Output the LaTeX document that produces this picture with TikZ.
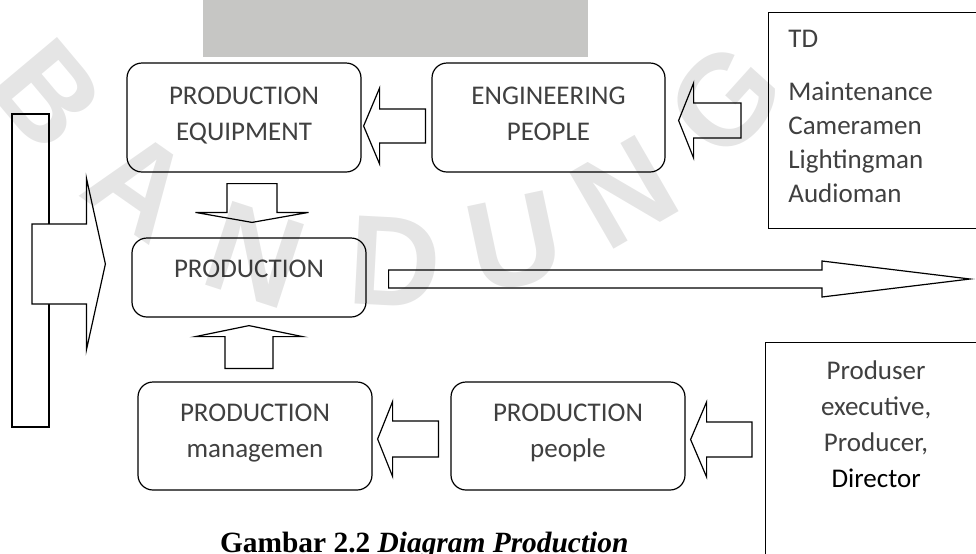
\documentclass[tikz,border=0pt]{standalone}
\usepackage{fontspec}
\setmainfont{Carlito}
\newfontfamily\captionserif{Liberation Serif}
\newfontfamily\stampfont{Liberation Sans}
\usetikzlibrary{positioning,calc}

\definecolor{bandgray}{RGB}{198,198,196}
\definecolor{textgray}{RGB}{64,64,64}

% tail, tip, shaft half width, head half width, head length
\newcommand{\blockarrow}[5]{%
  \path ($(#2)!#5!(#1)$) coordinate (bah);
  \draw[arrowshape] (#2) -- ($(bah)!#4!90:(#2)$) -- ($(bah)!#3!90:(#2)$) -- ($(#1)!#3!90:(#2)$)
    -- ($(#1)!#3!-90:(#2)$) -- ($(bah)!#3!-90:(#2)$) -- ($(bah)!#4!-90:(#2)$) -- cycle;
}

\begin{document}
\begin{tikzpicture}[x=0.5pt,y=-0.5pt,
  roundbox/.style={draw=black,line width=0.6pt,rounded corners=7.5pt,fill=white,inner sep=0pt},
  plainbox/.style={draw=black,line width=0.6pt,fill=white,inner sep=0pt},
  boxtext/.style={font=\fontsize{13.5}{17.75}\selectfont,text=textgray,align=center,inner sep=0pt,anchor=base},
  arrowshape/.style={draw=black,line width=0.6pt,fill=white,line join=miter}]
\path[use as bounding box] (0,0) rectangle (976,553);
\fill[bandgray] (203,0) rectangle (588,57);

% boxes
\node[roundbox,minimum width=117pt,minimum height=54.5pt] (equip) at (244,117.5) {};
\node[roundbox,minimum width=116.5pt,minimum height=54.5pt] (eng) at (548.5,117.5) {};
\node[roundbox,minimum width=117pt,minimum height=39.5pt] (prod) at (249,277.5) {};
\node[roundbox,minimum width=117pt,minimum height=54pt] (mgmt) at (255,436) {};
\node[roundbox,minimum width=117pt,minimum height=54pt] (people) at (568,436) {};
\node[plainbox,minimum width=18.5pt,minimum height=156.5pt] (feed) at (30.5,270.5) {};
\node[plainbox,anchor=north west,minimum width=111pt,minimum height=108pt] (crew) at (768,12) {};
\node[plainbox,anchor=north west,minimum width=112.5pt,minimum height=114pt] (staff) at (765,342) {};

% texts (base = last line)
\node[boxtext] (equip-t) at ([yshift=-39pt]equip.north) {PRODUCTION\\EQUIPMENT};
\node[boxtext] (eng-t) at ([yshift=-39pt]eng.north) {ENGINEERING\\PEOPLE};
\node[boxtext] (prod-t) at ([yshift=-20pt]prod.north) {PRODUCTION};
\node[boxtext] (mgmt-t) at ([yshift=-38pt]mgmt.north) {PRODUCTION\\managemen};
\node[boxtext] (people-t) at ([yshift=-38pt]people.north) {PRODUCTION\\people};
\node[boxtext,anchor=base west] (crew-t) at ([xshift=10pt,yshift=-17.5pt]crew.north west) {TD};
\node[boxtext,anchor=base west,align=left,font=\fontsize{13.5}{16.85}\selectfont] (crew-l)
  at ([xshift=10pt,yshift=-95pt]crew.north west) {Maintenance\\Cameramen\\Lightingman\\Audioman};
\node[boxtext,font=\fontsize{13.5}{18}\selectfont] (staff-t) at ([xshift=-1pt,yshift=-72.5pt]staff.north)
  {Produser\\executive,\\Producer,\\\textcolor{black}{Director}};

% arrows
\coordinate (a1s) at ([xshift=-3pt,yshift=-4.25pt]eng.west);
\coordinate (a1e) at ([xshift=1pt,yshift=-4.25pt]equip.east);
\blockarrow{a1s}{a1e}{8.5pt}{19pt}{8pt}
\coordinate (a2s) at ([xshift=-13.5pt,yshift=-1.5pt]crew.west |- eng.east);
\coordinate (a2e) at ([xshift=6.5pt,yshift=-1.5pt]eng.east);
\blockarrow{a2s}{a2e}{8.75pt}{18.75pt}{7.5pt}
\coordinate (a3s) at ([xshift=4pt,yshift=-5.5pt]equip.south);
\coordinate (a3e) at ([xshift=1.5pt,yshift=7.5pt]prod.north);
\blockarrow{a3s}{a3e}{12.5pt}{28.25pt}{5pt}
\coordinate (a4s) at ([xshift=-3pt,yshift=6.5pt]mgmt.north);
\coordinate (a4e) at ([yshift=-4pt]prod.south);
\blockarrow{a4s}{a4e}{12pt}{26.75pt}{5.5pt}
\coordinate (a5s) at ([xshift=-6pt,yshift=-1.5pt]people.west);
\coordinate (a5e) at ([xshift=2.5pt,yshift=-1.5pt]mgmt.east);
\blockarrow{a5s}{a5e}{9pt}{18.75pt}{7.5pt}
\coordinate (a6s) at ([xshift=-6.5pt,yshift=-1.75pt]staff.west |- people.east);
\coordinate (a6e) at ([xshift=2.5pt,yshift=-1.75pt]people.east);
\blockarrow{a6s}{a6e}{8.75pt}{18.75pt}{8pt}
\coordinate (a7s) at ([xshift=11pt,yshift=-0.75pt]prod.east);
\coordinate (out) at (970,279);
\blockarrow{a7s}{out}{4.5pt}{9pt}{74pt}
\coordinate (a8s) at ([xshift=0.75pt,yshift=3.25pt]feed.center);
\coordinate (a8e) at ([xshift=-13pt,yshift=6.75pt]prod.west);
\blockarrow{a8s}{a8e}{20pt}{43pt}{9.5pt}

\node[anchor=base west,font=\captionserif\fontsize{14.7}{18}\selectfont\bfseries] (caption) at (213,552)
  {Gambar 2.2 \itshape Diagram Production};

% stamp
\foreach \ltr/\sx/\sy/\rot [count=\i] in {B/48/95/-50,A/140/185/-35,N/255/255/-18,D/395/262/-3,U/515/242/12,N/625/192/30,G/725/100/48}
  \node[font=\stampfont\bfseries\fontsize{64}{64}\selectfont,text=black,text opacity=0.1,rotate=\rot] (stamp\i) at (\sx,\sy) {\ltr};
\end{tikzpicture}
\end{document}
